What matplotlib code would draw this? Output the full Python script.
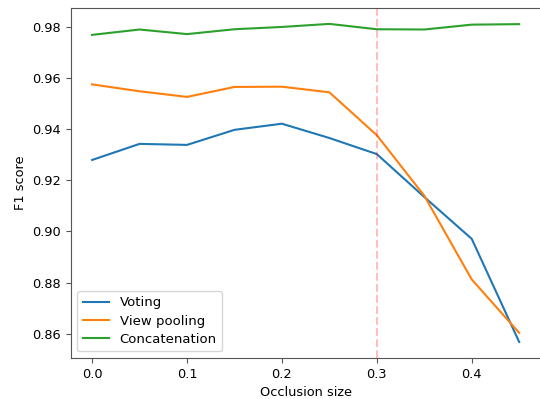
import numpy as np
import matplotlib
matplotlib.use("Agg")
import matplotlib.pyplot as plt

occlusion = [0.0, 0.05, 0.1, 0.15, 0.2, 0.25, 0.3, 0.35, 0.4, 0.45]
voting = [0.9280, 0.9343, 0.9339, 0.9398, 0.9422, 0.9366, 0.9303, 0.9135, 0.8971, 0.8567]
view_pooling = [0.9576, 0.9549, 0.9527, 0.9566, 0.9567, 0.9545, 0.9377, 0.9140, 0.8812, 0.8603]
concatenation = [0.9770, 0.9791, 0.9773, 0.9792, 0.9801, 0.9813, 0.9792, 0.9791, 0.9810, 0.9812]

fig = plt.figure(figsize=(5.4, 3.99), dpi=100)
# the reference is cropped: right spine falls at/after the image edge
ax = fig.add_axes([0.131, 0.103, 0.870, 0.877])

ax.plot(occlusion, voting, color="#1f77b4", lw=1.5, label="Voting")
ax.plot(occlusion, view_pooling, color="#ff7f0e", lw=1.5, label="View pooling")
ax.plot(occlusion, concatenation, color="#2ca02c", lw=1.5, label="Concatenation")
ax.axvline(0.3, color="red", alpha=0.25, ls="--", lw=1.5)

for s in ax.spines.values():
    s.set_color("#555555")
ax.spines["right"].set_visible(False)
ax.set_xlabel("Occlusion size", fontsize=9.3)
ax.set_ylabel("F1 score", fontsize=9.3)
ax.tick_params(labelsize=9.3, color="#555555")
ax.set_xticks([0.0, 0.1, 0.2, 0.3, 0.4])
ax.set_yticks([0.86, 0.88, 0.90, 0.92, 0.94, 0.96, 0.98])
ax.legend(loc="lower left", fontsize=9.5, labelspacing=0.4)

fig.savefig("out.png", dpi=100)
